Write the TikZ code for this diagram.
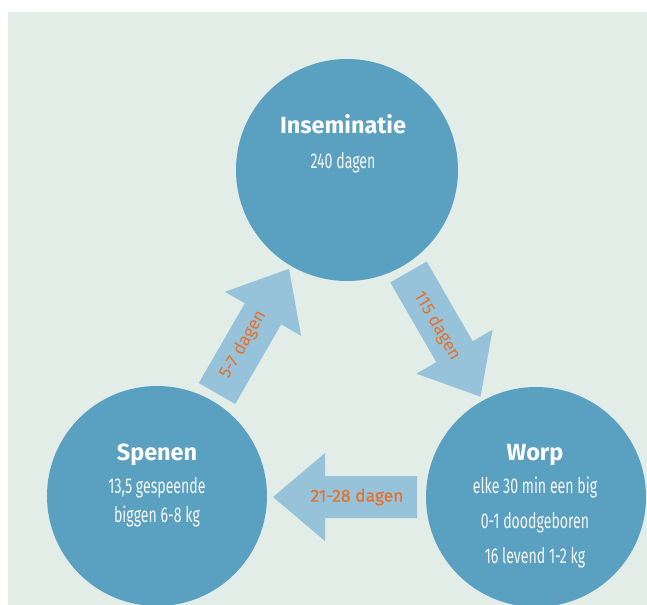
\documentclass[tikz,border=0pt]{standalone}
\usepackage{fontspec}
\setmainfont{Fira Sans}
\newfontfamily\titlefont{Fira Sans}
\newfontfamily\condfont[FakeStretch=0.66]{Fira Sans}
\newfontfamily\labelfont{Fira Sans}
\newfontfamily\labelbold[FakeBold=0.6]{Fira Sans}
\definecolor{panelbg}{HTML}{E2EDE7}
\definecolor{circblue}{HTML}{5AA0C0}
\definecolor{arrowblue}{HTML}{96C3D9}
\definecolor{orangetxt}{HTML}{E8702A}
\tikzset{
  phase/.style={circle, fill=circblue, inner sep=0pt, minimum size=220bp},
  ttl/.style={anchor=base, text=white, font=\titlefont\bfseries\fontsize{23.5}{26}\selectfont},
  sub/.style={anchor=base, text=white!94!gray, font=\condfont\fontsize{21.5}{24}\selectfont},
  arrlabel/.style={text=orangetxt, font=\labelfont\fontsize{17.5}{20}\selectfont, inner sep=0pt},
  fatarrow/.pic={\fill[arrowblue] (0,-21) -- (92,-21) -- (92,-44) -- (144,0) -- (92,44) -- (92,21) -- (0,21) -- cycle;}
}
\begin{document}
\begin{tikzpicture}[x=1bp,y=-1bp]
\useasboundingbox (0,0) rectangle (647,605);
\fill[panelbg] (8,12) rectangle (647,605);

% arrows
\pic[rotate=-60] at (408.5,272) {fatarrow};
\pic[rotate=60] at (217,393.5) {fatarrow};
\pic[rotate=180] at (417,497) {fatarrow};

% circles
\node[phase, minimum size=222bp] (ins) at (347,170) {};
\node[phase] (spe) at (157,496) {};
\node[phase] (wor) at (536,497) {};

% circle texts
\node[ttl] (insT) at (343,134) {Inseminatie};
\node[sub] (insA) at (343,169) {240 dagen};

\node[ttl] (speT) at (157,460) {Spenen};
\node[sub] (speA) at (157,493) {13,5 gespeende};
\node[sub] (speB) at (157,522) {biggen 6-8 kg};

\node[ttl] (worT) at (535,460) {Worp};
\node[sub] (worA) at (535,493) {elke 30 min een big};
\node[sub] (worB) at (535,528) {0-1 doodgeboren};
\node[sub] (worC) at (535,563) {16 levend 1-2 kg};

% arrow labels
\node[arrlabel, rotate=-60] (l115) at (437,326) {115 dagen};
\node[arrlabel, rotate=60] (l57) at (243,345) {5-7 dagen};
\node[arrlabel, font=\labelbold\fontsize{17.5}{20}\selectfont] (l2128) at (357,497) {21-28 dagen};
\end{tikzpicture}
\end{document}
